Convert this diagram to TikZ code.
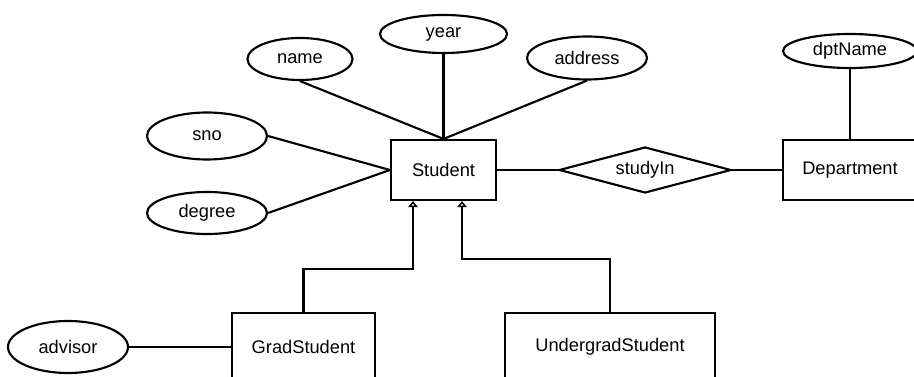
\documentclass[tikz,border=0pt]{standalone}
\usepackage{fontspec}
\setmainfont{Liberation Sans}
\usetikzlibrary{arrows.meta,positioning,shapes.geometric}

\begin{document}
\begin{tikzpicture}[
  x=0.75pt, y=-0.75pt,
  font=\fontsize{13.7}{16}\selectfont,
  ent/.style={rectangle, draw=black, line width=1.6pt, minimum width=78.75pt, minimum height=45pt, inner sep=0pt},
  attr/.style={ellipse, draw=black, line width=1.6pt, minimum width=90pt, minimum height=31.5pt, inner sep=0pt},
  rel/.style={diamond, draw=black, line width=1.6pt, aspect=3.7, minimum width=129pt, minimum height=34.5pt, inner sep=0pt},
  lnk/.style={line width=1.6pt},
  isa/.style={lnk, -{Triangle[open, length=4.5pt, width=7pt, line width=1.4pt]}}
]
\useasboundingbox (0,0) rectangle (914,377);
\clip (0,0) rectangle (914,377);
% entities and relationship
\node[ent] (student) at (443.5,170) {Student};
\node[rel, right=45.75pt of student] (study) {studyIn};
\node[ent, minimum width=100.5pt] (dept) at (850,170) {Department};
\node[ent, minimum width=107.25pt, minimum height=51pt] (grad) at (303.5,347) {GradStudent};
\node[ent, minimum width=157.5pt, minimum height=51pt] (ugrad) at (610,347) {UndergradStudent};
% attributes
\node[attr, minimum width=78.75pt] (name) at (300,59) {name};
\node[attr, minimum width=95.25pt, minimum height=28.5pt] (year) at (443.5,34) {year};
\node[attr, minimum height=32.25pt] (address) at (587,58) {address};
\node[attr, minimum height=35.25pt] (sno) at (207,136) {sno};
\node[attr] (degree) at (207,213) {degree};
\node[attr, minimum width=100.5pt, minimum height=25.5pt] (dptname) at (850,51) {dptName};
\node[attr, minimum height=39pt] (advisor) at (68,347) {advisor};
\coordinate (gradjoin) at (413,269);
\coordinate (ugradjoin) at (462,259);
\draw[lnk] (name.south) -- (student.north);
\draw[lnk] (year) -- (student);
\draw[lnk] (address.south) -- (student.north);
\draw[lnk] (sno.east) -- (student.west);
\draw[lnk] (degree.east) -- (student.west);
\draw[lnk] (student) -- (study);
\draw[lnk] (study) -- (dept);
\draw[lnk] (dptname) -- (dept);
\draw[lnk] (advisor) -- (grad);
% subclasses
\draw[isa] (grad.north) |- (gradjoin) -- (gradjoin |- student.south);
\draw[isa] (ugrad.north) |- (ugradjoin) -- (ugradjoin |- student.south);
\end{tikzpicture}
\end{document}
